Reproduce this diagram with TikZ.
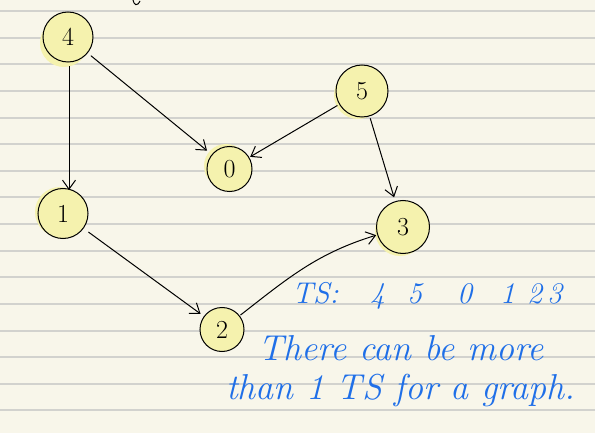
\documentclass[tikz,border=0pt]{standalone}
\usetikzlibrary{arrows.meta}
\definecolor{paper}{HTML}{F8F6EA}
\definecolor{rule}{HTML}{D2D2CE}
\definecolor{hl}{HTML}{F5F2AE}
\definecolor{ink}{HTML}{1F6FE8}
\tikzset{
  vert/.style={circle,draw=black,line width=1pt,fill=hl,font=\fontsize{26}{30}\selectfont},
  glow/.style={fill=hl,draw=none},
  edge/.style={line width=1pt,-{Straight Barb[length=9pt,width=13pt]}},
  note/.style={text=ink,font=\itshape\fontsize{36}{40}\selectfont,inner sep=0pt,anchor=west},
  tsnote/.style={text=ink,font=\itshape\fontsize{30}{34}\selectfont,inner sep=0pt,anchor=west}
}
\begin{document}
\begin{tikzpicture}[x=1pt,y=-1pt]
\fill[paper] (0,0) rectangle (595,433);
\useasboundingbox (0,0) rectangle (595,433);
\foreach \k in {0,...,16}{
  \pgfmathsetmacro{\yy}{round(11+26.63*\k)}
  \draw[rule,line width=2pt] (0,\yy) -- (595,\yy);
}
% highlighter glows
\fill[glow] (64,43) circle (24);
\fill[glow] (358,95) circle (24);
\fill[glow] (226,166) circle (22);
\fill[glow] (60,212) circle (25);
\fill[glow] (223,331) circle (20);
\fill[glow] (400,231) circle (25);
% vertices
\node[vert,minimum size=50pt] (n4) at (68,37) {4};
\node[vert,minimum size=52pt] (n5) at (362,91) {5};
\node[vert,minimum size=45pt] (n0) at (229.5,169) {0};
\node[vert,minimum size=50pt] (n1) at (63,213.5) {1};
\node[vert,minimum size=44pt] (n2) at (222,329.5) {2};
\node[vert,minimum size=53pt] (n3) at (403,227) {3};
\coordinate (a1) at (69,190);
% edges
\draw[edge,shorten <=4pt] (n4.south -| a1) -- (a1);
\draw[edge,shorten <=4pt,shorten >=6pt] (n4) -- (n0);
\draw[edge,shorten <=2pt,shorten >=1pt] (n5) -- (n0);
\draw[edge,shorten <=2pt,shorten >=4pt] (n5) -- (n3);
\draw[edge,shorten <=6pt,shorten >=4pt] (n1) -- (n2);
\draw[edge,shorten <=1pt,shorten >=1pt] (n2) to[out=38,in=197] (n3);
% stray stroke at top
\draw[line width=1pt] (133,0) .. controls (134,5) and (137,7) .. (140,1);
% notes
\node[tsnote] (ts) at (292,296) {\makebox[78pt][l]{TS:}\makebox[37pt][l]{4}\makebox[50pt][l]{5}\makebox[43pt][l]{0}\makebox[27pt][l]{1}2\,3};
\node[note] (l1) at (258,348) {There can be more};
\node[note] (l2) at (226,390) {than 1 TS for a graph.};
\end{tikzpicture}
\end{document}
